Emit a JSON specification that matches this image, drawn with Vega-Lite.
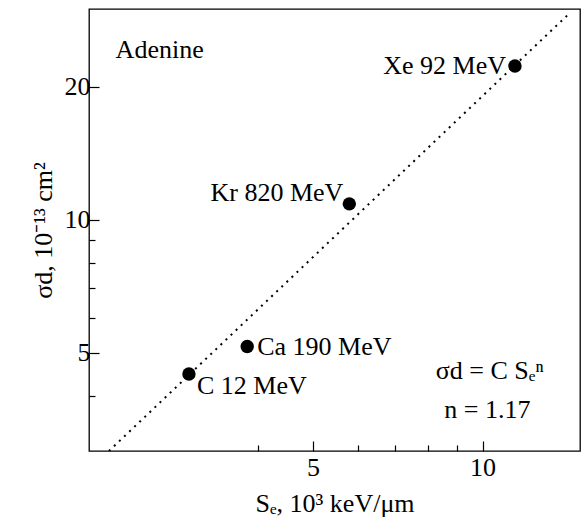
{
  "$schema": "https://vega.github.io/schema/vega-lite/v6.json",
  "width": 491,
  "height": 442,
  "autosize": "none",
  "padding": {"left": 89, "top": 9, "right": 4, "bottom": 68},
  "background": "white",
  "config": {
    "view": {"stroke": "black", "strokeWidth": 1.3},
    "font": "Liberation Serif",
    "axis": {
      "domain": false, "grid": false, "tickColor": "black", "tickWidth": 1.2,
      "labelColor": "black", "titleColor": "black",
      "labelFont": "Liberation Serif", "titleFont": "Liberation Serif",
      "labelFontSize": 26, "titleFontSize": 26, "titleFontWeight": "normal"
    },
    "text": {"font": "Liberation Serif", "fontSize": 26, "color": "black"}
  },
  "datasets": {
    "points": [
      {"ion": "C 12 MeV", "se": 3.01, "sigma": 4.48},
      {"ion": "Ca 190 MeV", "se": 3.82, "sigma": 5.17},
      {"ion": "Kr 820 MeV", "se": 5.80, "sigma": 10.87},
      {"ion": "Xe 92 MeV", "se": 11.42, "sigma": 22.3}
    ],
    "fit": [
      {"se": 2.17, "sigma": 3.0},
      {"se": 14.3, "sigma": 29.4}
    ],
    "notes": [
      {"id": "title", "text": "Adenine", "se": 2.23, "sigma": 23.2},
      {"id": "formula", "text": "σd = C Sₑⁿ", "se": 10.3, "sigma": 4.54},
      {"id": "n", "text": "n = 1.17", "se": 10.2, "sigma": 3.71}
    ]
  },
  "layer": [
    {
      "data": {"name": "fit"},
      "mark": {"type": "line", "strokeDash": [2, 5], "color": "black", "strokeWidth": 2, "clip": true},
      "encoding": {
        "x": {"field": "se", "type": "quantitative",
          "scale": {"type": "log", "domain": [2, 14.9], "nice": false},
          "axis": {"orient": "bottom", "values": [4, 6, 7, 8, 9], "labels": false, "tickSize": -6, "title": null}},
        "y": {"field": "sigma", "type": "quantitative",
          "scale": {"type": "log", "domain": [3, 30], "nice": false},
          "axis": {"orient": "left", "values": [4, 6, 7, 8, 9], "labels": false, "tickSize": -6, "title": null}}
      }
    },
    {
      "data": {"name": "points"},
      "mark": {"type": "circle", "size": 180, "color": "black", "opacity": 1},
      "encoding": {
        "x": {"field": "se", "type": "quantitative",
          "axis": {"orient": "bottom", "values": [5, 10], "tickSize": -10, "labelPadding": 13, "title": "Sₑ, 10³ keV/μm", "titlePadding": 10}},
        "y": {"field": "sigma", "type": "quantitative",
          "axis": {"orient": "left", "values": [5, 10, 20], "tickSize": -10, "labelPadding": 9, "title": "σd, 10⁻¹³ cm²", "titlePadding": 8}}
      }
    },
    {
      "data": {"name": "points"},
      "transform": [{"filter": "datum.ion === 'Ca 190 MeV'"}],
      "mark": {"type": "text", "align": "left", "baseline": "middle", "dx": 10},
      "encoding": {
        "x": {"field": "se", "type": "quantitative", "axis": null},
        "y": {"field": "sigma", "type": "quantitative", "axis": null},
        "text": {"field": "ion"}
      }
    },
    {
      "data": {"name": "points"},
      "transform": [{"filter": "datum.ion === 'C 12 MeV'"}],
      "mark": {"type": "text", "align": "left", "baseline": "middle", "dx": 8, "dy": 12},
      "encoding": {
        "x": {"field": "se", "type": "quantitative", "axis": null},
        "y": {"field": "sigma", "type": "quantitative", "axis": null},
        "text": {"field": "ion"}
      }
    },
    {
      "data": {"name": "points"},
      "transform": [{"filter": "datum.ion === 'Kr 820 MeV'"}],
      "mark": {"type": "text", "align": "right", "baseline": "middle", "dx": -6, "dy": -11},
      "encoding": {
        "x": {"field": "se", "type": "quantitative", "axis": null},
        "y": {"field": "sigma", "type": "quantitative", "axis": null},
        "text": {"field": "ion"}
      }
    },
    {
      "data": {"name": "points"},
      "transform": [{"filter": "datum.ion === 'Xe 92 MeV'"}],
      "mark": {"type": "text", "align": "right", "baseline": "middle", "dx": -9},
      "encoding": {
        "x": {"field": "se", "type": "quantitative", "axis": null},
        "y": {"field": "sigma", "type": "quantitative", "axis": null},
        "text": {"field": "ion"}
      }
    },
    {
      "data": {"name": "notes"},
      "transform": [{"filter": "datum.id === 'title'"}],
      "mark": {"type": "text", "align": "left", "baseline": "alphabetic"},
      "encoding": {
        "x": {"field": "se", "type": "quantitative", "axis": null},
        "y": {"field": "sigma", "type": "quantitative", "axis": null},
        "text": {"field": "text"}
      }
    },
    {
      "data": {"name": "notes"},
      "transform": [{"filter": "datum.id !== 'title'"}],
      "mark": {"type": "text", "align": "center", "baseline": "middle"},
      "encoding": {
        "x": {"field": "se", "type": "quantitative", "axis": null},
        "y": {"field": "sigma", "type": "quantitative", "axis": null},
        "text": {"field": "text"}
      }
    }
  ],
  "resolve": {"axis": {"x": "independent", "y": "independent"}}
}
